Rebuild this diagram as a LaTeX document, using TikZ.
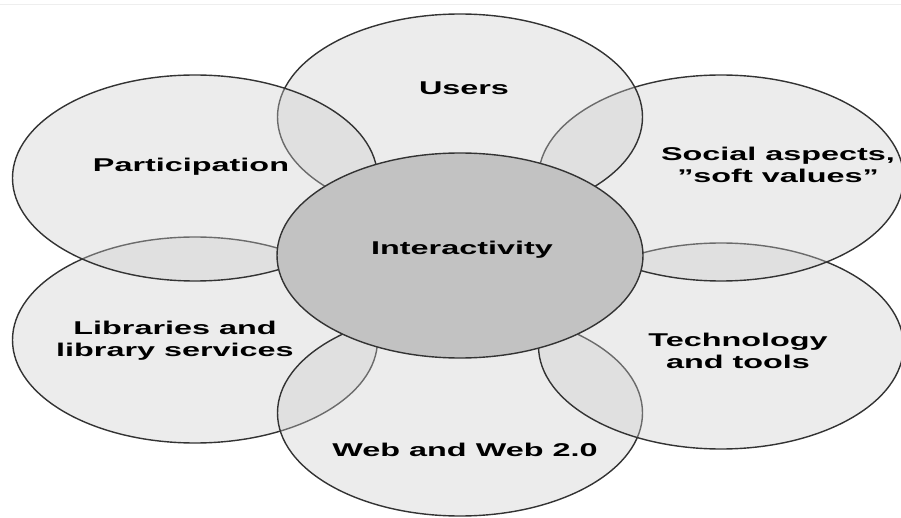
\documentclass[tikz,border=0pt]{standalone}
\usepackage{fontspec}
\usetikzlibrary{shapes.geometric}
\setmainfont{Liberation Sans}[FakeStretch=1.75]
\definecolor{edge}{HTML}{333333}
\definecolor{petal}{HTML}{CCCCCC}
\definecolor{core}{HTML}{C2C2C2}
\begin{document}
\begin{tikzpicture}[x=1pt,y=-1pt,
  petalshape/.style={ellipse, draw=edge, line width=1.4pt, fill=petal, fill opacity=0.37, draw opacity=1, minimum width=365pt, minimum height=206pt, inner sep=0pt},
  coreshape/.style={ellipse, draw=edge, line width=1.4pt, fill=core, minimum width=366pt, minimum height=205pt, inner sep=0pt},
  lbl/.style={text=black, font=\fontsize{18.5}{22}\selectfont\bfseries, align=center, inner sep=0pt, text opacity=1}]
\useasboundingbox (0,0) rectangle (901,518);
\fill[white] (0,0) rectangle (901,518);
\coordinate (tl) at (0,5);
\coordinate (tr) at (901,5);
\draw[color={rgb,255:red,238;green,238;blue,238}, line width=1pt] (tl) -- (tr);
% petals, back to front
\node[petalshape] (lib) at (195,340) {};
\node[petalshape] (web) at (460,413) {};
\node[petalshape] (tech) at (721,346) {};
\node[petalshape] (soc) at (721,178) {};
\node[petalshape] (usr) at (460,117) {};
\node[petalshape] (par) at (195,178) {};
\node[coreshape] (int) at (460,255.5) {};
% labels
\node[lbl] (tusr) at (464,88) {Users};
\node[lbl] (tpar) at (191,167) {Participation};
\node[lbl] (tsoc) at (778,165) {Social aspects,\\”soft values”};
\node[lbl] (tint) at (462,250) {Interactivity};
\node[lbl] (tlib) at (175,341) {Libraries and\\library services};
\node[lbl] (ttech) at (738,351) {Technology\\and tools};
\node[lbl] (tweb) at (465,450) {Web and Web 2.0};
\end{tikzpicture}
\end{document}
